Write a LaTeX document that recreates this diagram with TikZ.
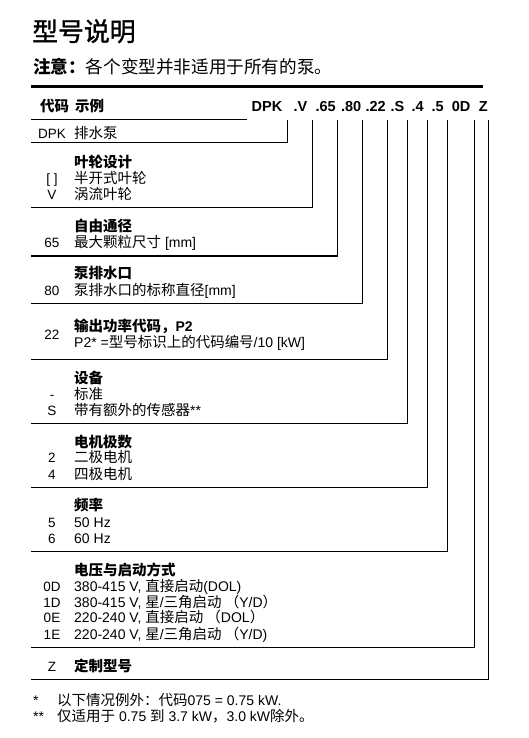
\documentclass[tikz,border=0pt]{standalone}
\usepackage{fontspec}
\setmainfont{Liberation Sans}
\newfontfamily\cjkf{Noto Sans CJK SC}[Scale=1.035]
\newfontfamily\cjkt{Noto Sans CJK SC}[Scale=1.035,FakeBold=1.2]
\newcommand\zh[1]{{\cjkf #1}}
\begin{document}
\begin{tikzpicture}[x=1pt,y=-1pt,
  txt/.style={inner sep=0pt, anchor=base west, font=\fontsize{14}{16}\selectfont},
  hd/.style={inner sep=0pt, anchor=base west, font=\fontsize{14}{16}\selectfont\bfseries},
  cd/.style={inner sep=0pt, anchor=base, font=\fontsize{13.5}{16}\selectfont},
  hcode/.style={inner sep=0pt, anchor=base east, font=\fontsize{14.5}{16}\selectfont\bfseries},
  rule/.style={line width=1pt, line join=miter},
  thickrule/.style={line width=1.8pt},
  toprule/.style={line width=3pt},
]
\useasboundingbox (0,0) rectangle (529,738);

% title
\node[inner sep=0pt, anchor=base west, font=\fontsize{25}{28}\selectfont] (title) at (32,41) {{\cjkt 型号说明}};
\node[inner sep=0pt, anchor=base west, font=\fontsize{17}{19}\selectfont] (note) at (33,73.5)
  {\zh{\bfseries 注意：}\zh{各个变型并非适用于所有的泵。}};

% top rule
\coordinate (trl) at (31,87);
\coordinate (trr) at (483,87);
\draw[toprule] (trl) -- (trr);

% header
\node[hd] (hdr) at (40,112) {\zh{代码}\hspace{6pt}\zh{示例}};
\node[hcode] (cDPK) at (282.5,112) {DPK};
\node[hcode] (cV) at (307.5,112) {.V};
\node[hcode] (c65) at (336,112) {.65};
\node[hcode] (c80) at (361.5,112) {.80};
\node[hcode] (c22) at (386,112) {.22};
\node[hcode] (cS) at (404.5,112) {.S};
\node[hcode] (c4) at (424,112) {.4};
\node[hcode] (c5) at (444,112) {.5};
\node[hcode] (c0D) at (470.5,112) {0D};
\node[hcode] (cZ) at (488,112) {Z};

\coordinate (hl) at (31,119.3);
\coordinate (hr) at (247,119.3);
\draw[rule] (hl) -- (hr);

% brackets
\coordinate (t1) at (287.7,120); \coordinate (e1) at (31,143);
\coordinate (t2) at (312.3,120); \coordinate (e2) at (31,207);
\coordinate (t3) at (337.3,120); \coordinate (e3) at (31,256);
\coordinate (t4) at (362.3,120); \coordinate (e4) at (31,303.3);
\coordinate (t5) at (387.3,120); \coordinate (e5) at (31,359.3);
\coordinate (t6) at (407.3,120); \coordinate (e6) at (31,423);
\coordinate (t7) at (427.3,120); \coordinate (e7) at (31,487.5);
\coordinate (t8) at (447.3,120); \coordinate (e8) at (31,551.2);
\coordinate (t9) at (474.3,120); \coordinate (e9) at (31,647);
\coordinate (t10) at (488.3,120); \coordinate (e10) at (31,679.2);
\draw[rule] (t1) |- (e1);
\draw[rule] (t2) |- (e2);
\draw[rule] (t3) |- (e3);
\draw[thickrule] (e3) -- (t3 |- e3);
\draw[rule] (t4) |- (e4);
\draw[rule] (t5) |- (e5);
\draw[rule] (t6) |- (e6);
\draw[rule] (t7) |- (e7);
\draw[rule] (t8) |- (e8);
\draw[rule] (t9) |- (e9);
\draw[rule] (t10) |- (e10);

% section 1
\node[cd] (k1) at (52,139) {DPK};
\node[txt] (d1) at (74,139) {\zh{排水泵}};

% section 2
\node[hd] (h2) at (74,167.3) {\zh{叶轮设计}};
\node[cd] (k2a) at (52,183.3) {[ ]};
\node[txt] (d2a) at (74,183.3) {\zh{半开式叶轮}};
\node[cd] (k2b) at (52,199) {V};
\node[txt] (d2b) at (74,199) {\zh{涡流叶轮}};

% section 3
\node[hd] (h3) at (74,231) {\zh{自由通径}};
\node[cd] (k3) at (52,247.7) {65};
\node[txt] (d3) at (74,247.7) {\zh{最大颗粒尺寸} [mm]};

% section 4
\node[hd] (h4) at (74,278.3) {\zh{泵排水口}};
\node[cd] (k4) at (52,295.7) {80};
\node[txt] (d4) at (74,295.7) {\zh{泵排水口的标称直径}[mm]};

% section 5
\node[hd] (h5) at (74,331.7) {\zh{输出功率代码，}P2};
\node[cd] (k5) at (52,339.3) {22};
\node[txt] (d5) at (74,347.7) {P2* =\zh{型号标识上的代码编号}/10 [kW]};

% section 6
\node[hd] (h6) at (74,383.3) {\zh{设备}};
\node[cd] (k6a) at (52,399.3) {-};
\node[txt] (d6a) at (74,399.3) {\zh{标准}};
\node[cd] (k6b) at (52,415) {S};
\node[txt] (d6b) at (74,415) {\zh{带有额外的传感器}**};

% section 7
\node[hd] (h7) at (74,447.3) {\zh{电机极数}};
\node[cd] (k7a) at (52,462.7) {2};
\node[txt] (d7a) at (74,462.7) {\zh{二极电机}};
\node[cd] (k7b) at (52,479) {4};
\node[txt] (d7b) at (74,479) {\zh{四极电机}};

% section 8
\node[hd] (h8) at (74,510) {\zh{频率}};
\node[cd] (k8a) at (52,527.3) {5};
\node[txt] (d8a) at (74,527.3) {50 Hz};
\node[cd] (k8b) at (52,543.3) {6};
\node[txt] (d8b) at (74,543.3) {60 Hz};

% section 9
\node[hd] (h9) at (74,575) {\zh{电压与启动方式}};
\node[cd] (k9a) at (52,591.7) {0D};
\node[txt] (d9a) at (74,591.7) {380-415 V, \zh{直接启动}(DOL)};
\node[cd] (k9b) at (52,607.3) {1D};
\node[txt] (d9b) at (74,607.3) {380-415 V, \zh{星}/\zh{三角启动 （}Y/D\zh{）}};
\node[cd] (k9c) at (52,622.7) {0E};
\node[txt] (d9c) at (74,622.7) {220-240 V, \zh{直接启动 （}DOL\zh{）}};
\node[cd] (k9d) at (52,639) {1E};
\node[txt] (d9d) at (74,639) {220-240 V, \zh{星}/\zh{三角启动 （}Y/D)};

% section 10
\node[cd] (k10) at (52,671) {Z};
\node[hd] (h10) at (74,671) {\zh{定制型号}};

% footnotes
\node[txt] (f1s) at (33,705) {*};
\node[txt] (f1) at (57,705) {\zh{以下情况例外：}\zh{代码}075 = 0.75 kW.};
\node[txt] (f2s) at (33,721) {**};
\node[txt] (f2) at (57,721) {\zh{仅适用于} 0.75 \zh{到} 3.7 kW\zh{，}3.0 kW\zh{除外。}};
\end{tikzpicture}
\end{document}
